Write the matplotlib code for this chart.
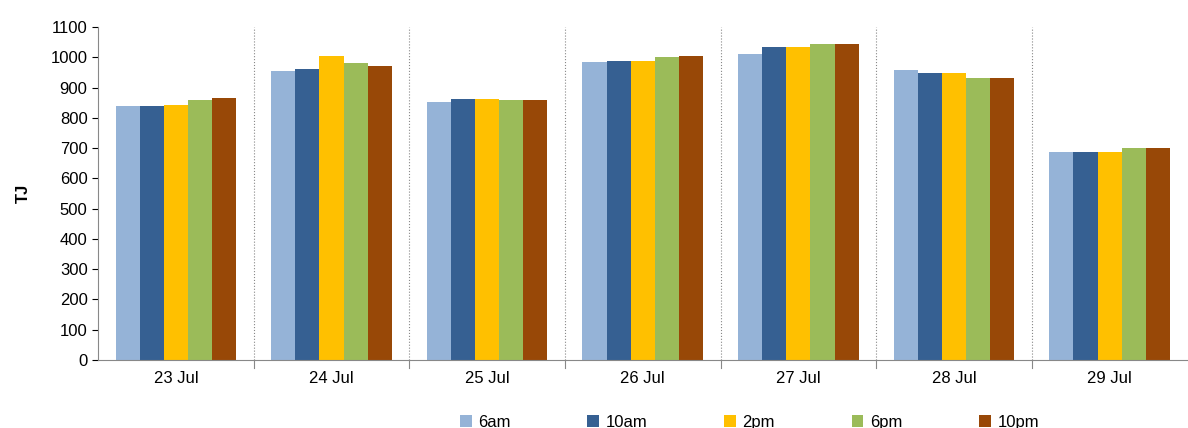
import matplotlib
matplotlib.use("Agg")
import matplotlib.pyplot as plt
import numpy as np

categories = ["23 Jul", "24 Jul", "25 Jul", "26 Jul", "27 Jul", "28 Jul", "29 Jul"]
series_names = ["6am", "10am", "2pm", "6pm", "10pm"]
v6am = [838, 955, 852, 985, 1012, 958, 687]
v10am = [840, 960, 863, 987, 1035, 947, 688]
v2pm = [843, 1005, 862, 987, 1035, 947, 688]
v6pm = [860, 980, 858, 1000, 1043, 930, 700]
v10pm = [865, 970, 858, 1005, 1045, 930, 700]
colors = ["#95B3D7", "#366092", "#FFC000", "#9BBB59", "#984807"]

plt.rcParams['font.family'] = ['Liberation Sans', 'DejaVu Sans']
fig = plt.figure(figsize=(11.88, 4.28), dpi=100)
ax = fig.add_axes([0.0825, 0.159, 0.917, 0.778])
x = np.arange(len(categories))
w = 0.155
for i, (vals, name) in enumerate(zip([v6am, v10am, v2pm, v6pm, v10pm], series_names)):
    ax.bar(x + (i - 2) * w, vals, w, color=colors[i], label=name, zorder=2)
ax.set_xlim(-0.5, len(categories) - 0.5)
ax.set_ylim(0, 1100)
ax.set_yticks(range(0, 1101, 100))
ax.set_xticks(x)
ax.set_xticklabels(categories, fontsize=12)
ax.tick_params(axis='y', labelsize=12, length=4)
ax.tick_params(axis='x', length=0, pad=8)
for b in np.arange(0.5, len(categories) - 0.5, 1):
    ax.axvline(b, color="#888888", linestyle=":", linewidth=0.8, zorder=1)
    ax.plot([b, b], [0, -0.025], transform=ax.get_xaxis_transform(), color="#888888", lw=0.8, clip_on=False)
ax.set_ylabel("TJ", fontsize=12, fontweight="bold", labelpad=14)
for s in ["top", "right"]:
    ax.spines[s].set_visible(False)
for s in ["left", "bottom"]:
    ax.spines[s].set_color("#888888")
ax.legend(loc="upper center", bbox_to_anchor=(0.598, -0.165), ncol=5, frameon=False,
          fontsize=12, handlelength=0.7, handleheight=0.7, columnspacing=4.6, handletextpad=0.4,
          borderpad=0, borderaxespad=0)
fig.savefig("out.png", dpi=100)
